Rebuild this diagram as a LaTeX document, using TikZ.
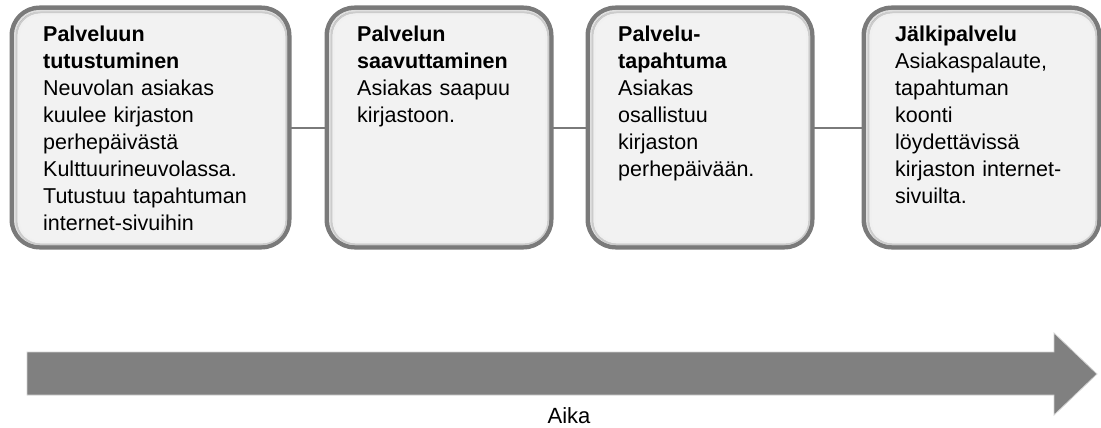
\documentclass[tikz,border=0pt]{standalone}
\usepackage{fontspec}
\setmainfont{Liberation Sans}
\definecolor{boxfill}{HTML}{F2F2F2}
\definecolor{boxedge}{HTML}{7A7A7A}
\definecolor{arrowfill}{HTML}{808080}
\tikzset{
  stagebox/.style={draw=boxedge, line width=4pt, fill=boxfill, rounded corners=28pt, minimum height=236pt, inner sep=0pt},
  stagetext/.style={anchor=north west, inner sep=0pt, align=left, text width=#1, font=\fontsize{21.5}{27}\selectfont},
  link/.style={draw=boxedge, line width=2pt},
}
\begin{document}
\begin{tikzpicture}[x=1pt,y=-1pt]
\useasboundingbox (0,0) rectangle (1101,428);
\node[stagebox, minimum width=274pt] (b1) at (150.5,127.5) {};
\node[stagebox, minimum width=221pt] (b2) at (439,127.5) {};
\node[stagebox, minimum width=221pt] (b3) at (700,127.5) {};
\node[stagebox, minimum width=232pt] (b4) at (981.5,127.5) {};
\path[link] (b1.east) -- (b2.west);
\path[link] (b2.east) -- (b3.west);
\path[link] (b3.east) -- (b4.west);
% inner soft shading, stronger on right/bottom
\foreach \b in {b1,b2,b3,b4}{
  \draw[gray!25, line width=2pt, rounded corners=24pt]
    ([xshift=3.5pt,yshift=-3.5pt]\b.north west) rectangle ([xshift=-3.5pt,yshift=3.5pt]\b.south east);
  \draw[gray!40, line width=2pt, rounded corners=24pt]
    ([xshift=5pt,yshift=-5pt]\b.north west) rectangle ([xshift=-3.2pt,yshift=3.2pt]\b.south east);
  \draw[gray!12, line width=2pt, rounded corners=22pt]
    ([xshift=7pt,yshift=-7pt]\b.north west) rectangle ([xshift=-5.2pt,yshift=5.2pt]\b.south east);
  \draw[boxedge, line width=4pt, rounded corners=28pt] (\b.north west) rectangle (\b.south east);
}
\node[stagetext=240pt] (t1) at (43,26) {\textbf{Palveluun}\\\textbf{tutustuminen}\\Neuvolan asiakas\\kuulee kirjaston\\perhepäivästä\\Kulttuurineuvolassa.\\Tutustuu tapahtuman\\internet-sivuihin};
\node[stagetext=190pt] (t2) at (357,26) {\textbf{Palvelun}\\\textbf{saavuttaminen}\\Asiakas saapuu\\kirjastoon.};
\node[stagetext=190pt] (t3) at (618,26) {\textbf{Palvelu-}\\\textbf{tapahtuma}\\Asiakas\\osallistuu\\kirjaston\\perhepäivään.};
\node[stagetext=200pt] (t4) at (895,26) {\textbf{Jälkipalvelu}\\Asiakaspalaute,\\tapahtuman\\koonti\\löydettävissä\\kirjaston internet-\\sivuilta.};
% time arrow
\draw[fill=arrowfill, draw=gray!35, line width=0.8pt]
  (27,352) -- (1054,352) -- (1054,333) -- (1097,374) -- (1054,415) -- (1054,395) -- (27,395) -- cycle;
\node[anchor=base, inner sep=0pt, font=\fontsize{22}{26}\selectfont] (aika) at (569,423) {Aika};
\end{tikzpicture}
\end{document}
